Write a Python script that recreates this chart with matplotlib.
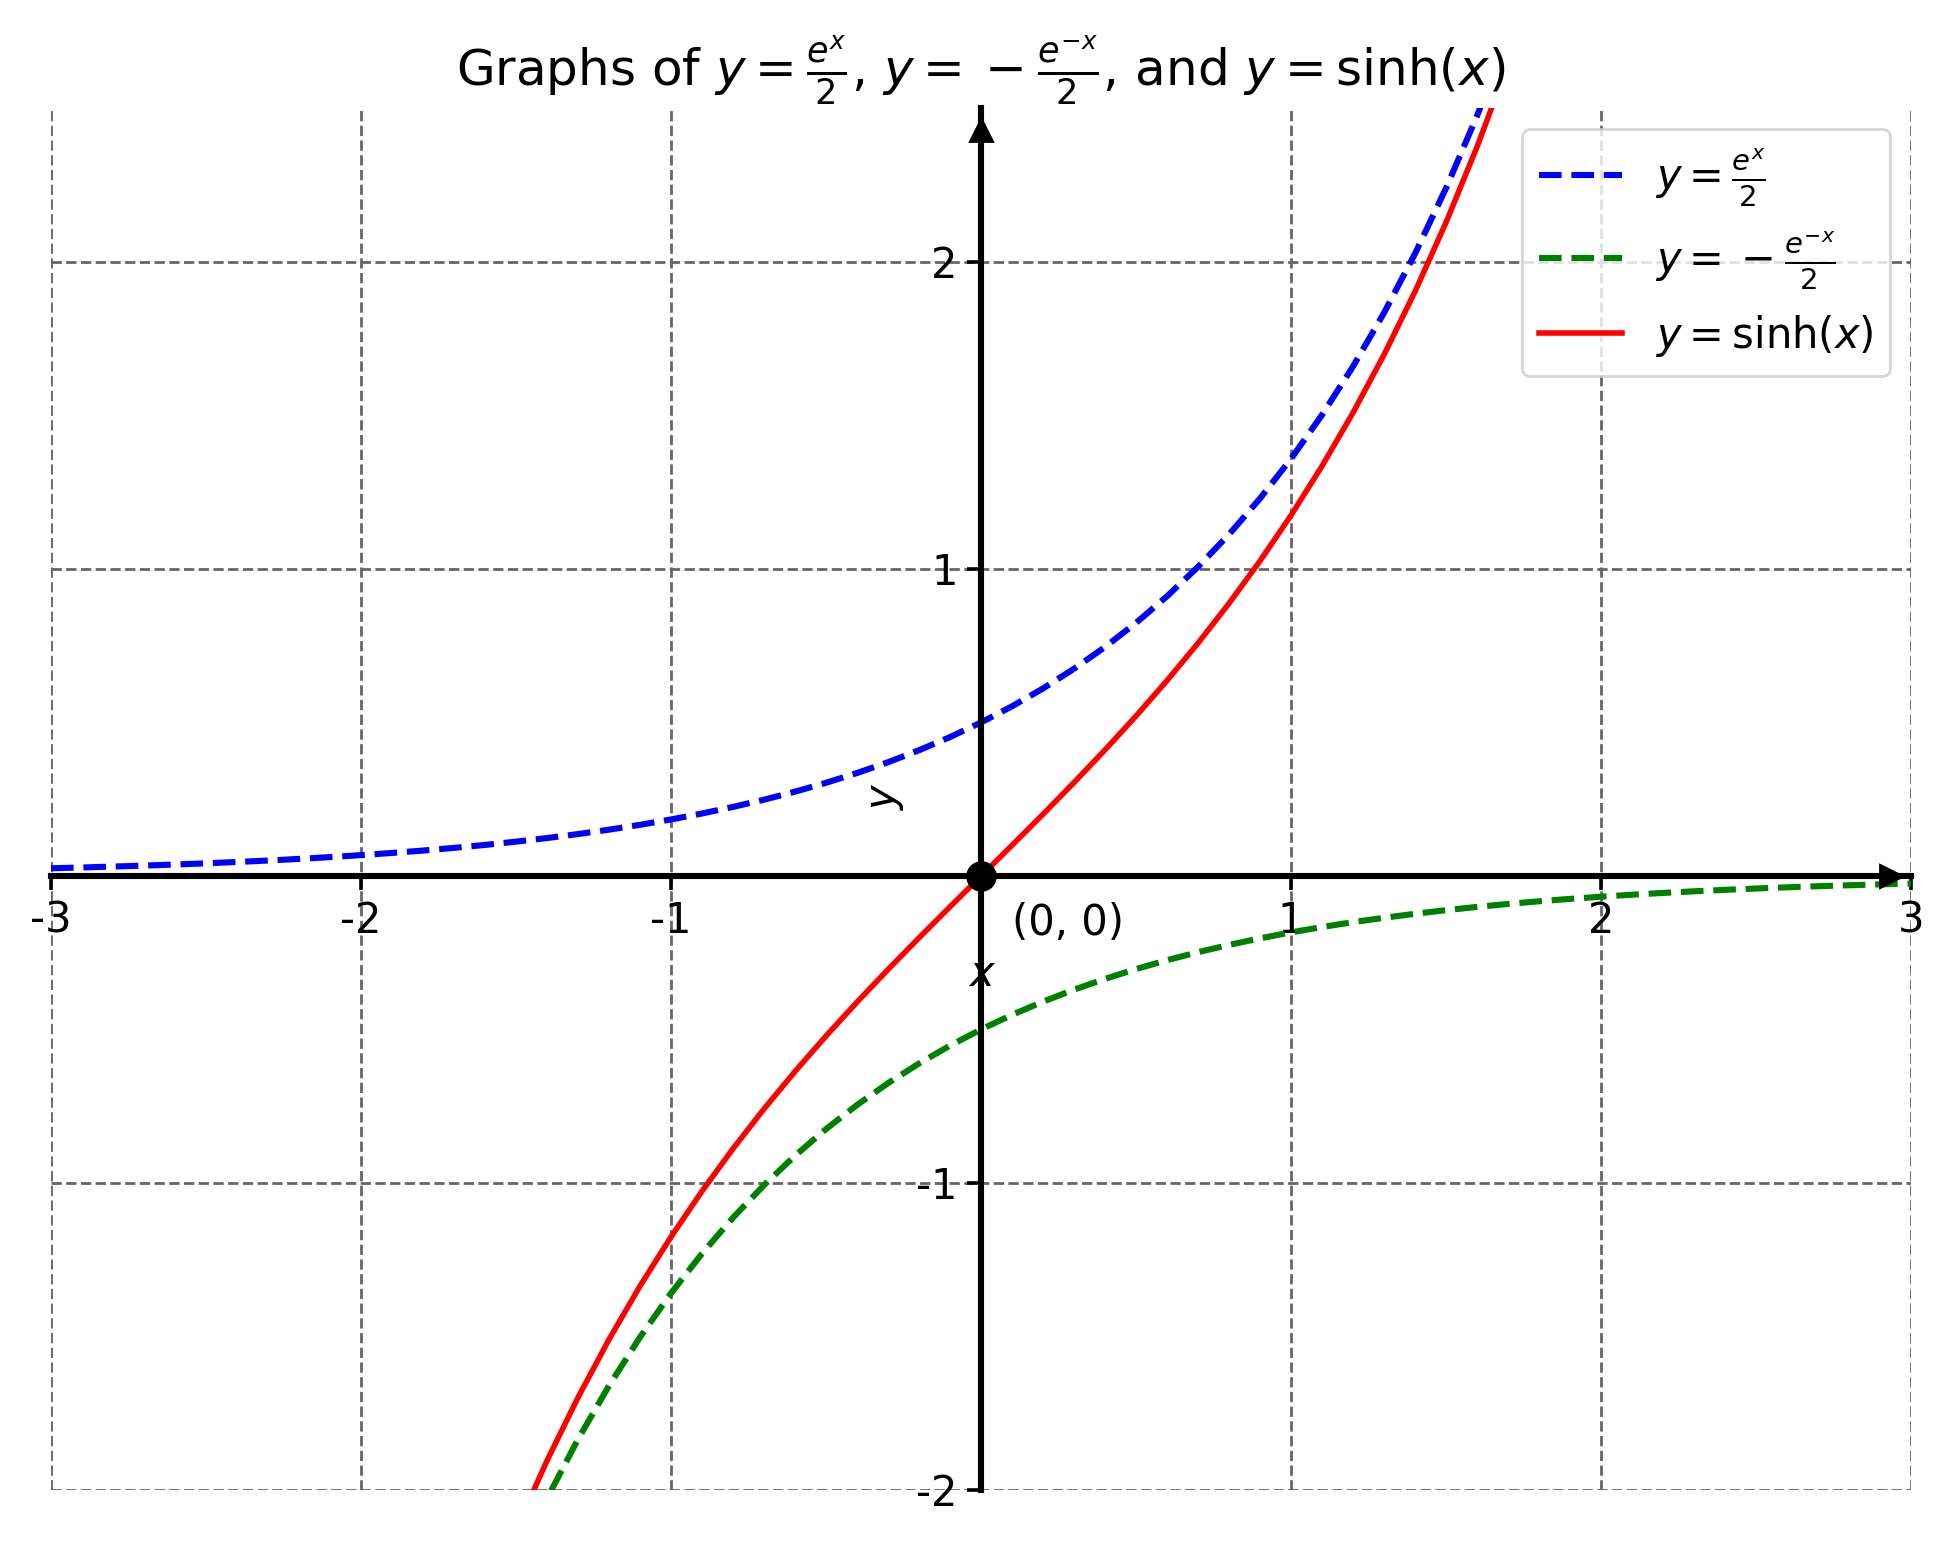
import numpy as np
import matplotlib
matplotlib.use("Agg")
import matplotlib.pyplot as plt

# sample positions and values
x_exp = np.round(np.arange(-3.0, 1.71, 0.1), 1)
y_exp = [0.0249, 0.0275, 0.0304, 0.0336, 0.0371, 0.0410, 0.0454, 0.0501, 0.0554, 0.0612,
         0.0677, 0.0748, 0.0826, 0.0913, 0.1009, 0.1116, 0.1233, 0.1363, 0.1506, 0.1664,
         0.1839, 0.2033, 0.2247, 0.2483, 0.2744, 0.3033, 0.3352, 0.3704, 0.4094, 0.4524,
         0.5000, 0.5526, 0.6107, 0.6749, 0.7459, 0.8244, 0.9111, 1.0069, 1.1128, 1.2298,
         1.3591, 1.5021, 1.6601, 1.8346, 2.0276, 2.2408, 2.4765, 2.7370]

x_negexp = np.round(np.arange(-1.5, 3.01, 0.1), 1)
y_negexp = [-2.2408, -2.0276, -1.8346, -1.6601, -1.5021, -1.3591, -1.2298, -1.1128, -1.0069, -0.9111,
            -0.8244, -0.7459, -0.6749, -0.6107, -0.5526, -0.5000, -0.4524, -0.4094, -0.3704, -0.3352,
            -0.3033, -0.2744, -0.2483, -0.2247, -0.2033, -0.1839, -0.1664, -0.1506, -0.1363, -0.1233,
            -0.1116, -0.1009, -0.0913, -0.0826, -0.0748, -0.0677, -0.0612, -0.0554, -0.0501, -0.0454,
            -0.0410, -0.0371, -0.0336, -0.0304, -0.0275, -0.0249]

x_sinh = np.round(np.arange(-1.5, 1.71, 0.1), 1)
y_sinh = [-2.1293, -1.9043, -1.6984, -1.5095, -1.3356, -1.1752, -1.0265, -0.8881, -0.7586, -0.6367,
          -0.5211, -0.4108, -0.3045, -0.2013, -0.1002, 0.0, 0.1002, 0.2013, 0.3045, 0.4108,
          0.5211, 0.6367, 0.7586, 0.8881, 1.0265, 1.1752, 1.3356, 1.5095, 1.6984, 1.9043,
          2.1293, 2.3756, 2.6456]

x_ticks = [-3, -2, -1, 1, 2, 3]
y_ticks = [-2, -1, 1, 2]

fig = plt.figure(figsize=(9.77, 7.74), dpi=200)
ax = fig.add_axes([0.0261, 0.0375, 0.952, 0.8925])

ax.plot(x_exp, y_exp, '--', color='blue', linewidth=2.2, label=r'$y = \frac{e^x}{2}$')
ax.plot(x_negexp, y_negexp, '--', color='green', linewidth=2.2, label=r'$y = \:-\:\frac{e^{-x}}{2}$')
ax.plot(x_sinh, y_sinh, color='red', linewidth=2, label=r'$y = \sinh(x)$')

# origin point
ax.plot([0], [0], 'o', color='black', markersize=10, zorder=5)
ax.text(0.1, -0.155, '(0, 0)', fontsize=15, va='center', ha='left')

ax.set_xlim(-3, 3)
ax.set_ylim(-2, 2.5)

# axes through the origin
ax.spines['left'].set_position('zero')
ax.spines['bottom'].set_position('zero')
ax.spines['right'].set_visible(False)
ax.spines['top'].set_visible(False)
ax.spines['left'].set_linewidth(2.2)
ax.spines['bottom'].set_linewidth(2.2)
ax.plot(0.989, 0, '>k', markersize=8, transform=ax.get_yaxis_transform(), clip_on=False)
ax.plot(0, 0.984, '^k', markersize=8, transform=ax.get_xaxis_transform(), clip_on=False)

ax.set_xticks(x_ticks)
ax.set_xticklabels([str(t) for t in x_ticks])
ax.set_yticks(y_ticks)
ax.set_yticklabels([str(t) for t in y_ticks])
ax.tick_params(labelsize=15, length=5, width=1.3)

ax.set_xlabel('x', fontsize=15, style='italic')
ax.set_ylabel('y', fontsize=15, style='italic')
ax.grid(True, linestyle='--', color='#666666', linewidth=1)

ax.set_title(r'Graphs of $y = \frac{e^x}{2}$, $y = \:-\:\frac{e^{-x}}{2}$, and $y = \sinh(x)$',
             fontsize=18)
ax.legend(loc='upper right', fontsize=15)

fig.savefig('out.png', dpi=200)
